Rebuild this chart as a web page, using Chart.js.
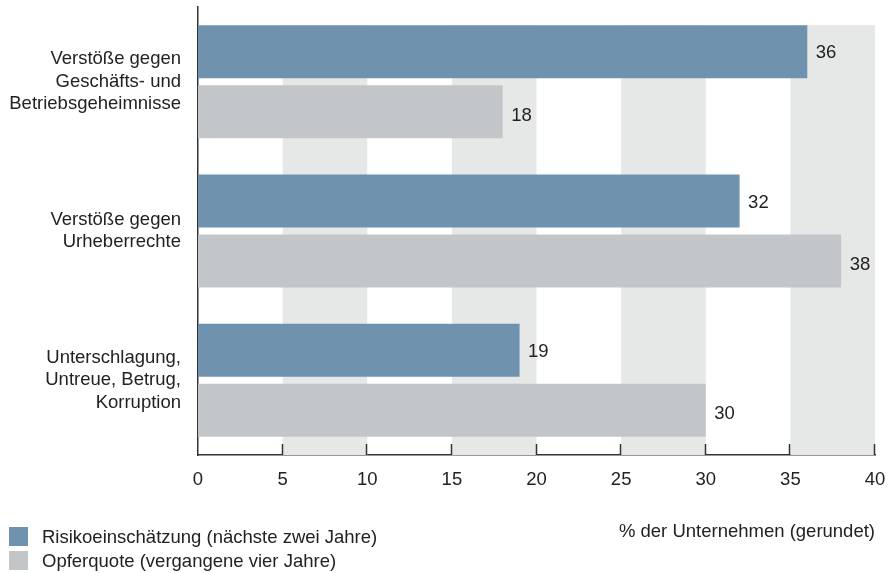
<!DOCTYPE html>
<html>
<head>
<meta charset="utf-8">
<script src="https://cdn.jsdelivr.net/npm/chart.js@4/dist/chart.umd.min.js"></script>
<style>
  body { margin: 0; background: #fff; font-family: "Liberation Sans", Arial, sans-serif; }
  #wrap { position: relative; width: 891px; height: 573px; }
  .legend-item { position: absolute; left: 9px; height: 19px; font-size: 18.5px; color: #222; line-height: 19px; }
  .legend-item span.box { position: absolute; left: 0; top: 0; width: 19px; height: 19px; }
  .legend-item span.txt { position: absolute; left: 33px; top: 0; white-space: nowrap; }
</style>
</head>
<body>
<div id="wrap">
  <canvas id="chart"></canvas>
  <div class="legend-item" style="top:527px"><span class="box" style="background:#6f93af"></span><span class="txt">Risikoeinschätzung (nächste zwei Jahre)</span></div>
  <div class="legend-item" style="top:551px"><span class="box" style="background:#c3c6c9"></span><span class="txt">Opferquote (vergangene vier Jahre)</span></div>
</div>
<script>
const categories = [
  ["Verstöße gegen", "Geschäfts- und", "Betriebsgeheimnisse"],
  ["Verstöße gegen", "Urheberrechte"],
  ["Unterschlagung,", "Untreue, Betrug,", "Korruption"],
];
const riskValues = [36, 32, 19];
const victimValues = [18, 38, 30];
const seriesLabels = ["Risikoeinschätzung (nächste zwei Jahre)", "Opferquote (vergangene vier Jahre)"];
const xTicks = [0, 5, 10, 15, 20, 25, 30, 35, 40];
const bandStarts = [5, 15, 25, 35];

const FONT = "'Liberation Sans', Arial, sans-serif";
const FS = 18.5;
// small vertical nudge of the value labels per series
const labelNudge = [1.5, 4];

// grey bands behind bars, tick marks inside the axis, and value labels
const decorPlugin = {
  id: "decor",
  beforeDatasetsDraw(chart) {
    const { ctx, chartArea, scales } = chart;
    const first = chart.getDatasetMeta(0).data[0];
    const bandTop = first.y - first.height / 2;
    ctx.save();
    ctx.fillStyle = "#e6e7e7";
    bandStarts.forEach((v) => {
      const x1 = scales.x.getPixelForValue(v);
      const x2 = scales.x.getPixelForValue(v + 5);
      ctx.fillRect(x1, bandTop, x2 - x1, chartArea.bottom - bandTop);
    });
    ctx.restore();
  },
  afterDraw(chart) {
    const { ctx, chartArea, scales } = chart;
    ctx.save();
    ctx.strokeStyle = "#333";
    ctx.lineWidth = 1.5;
    xTicks.slice(1).forEach((v) => {
      const x = Math.round(scales.x.getPixelForValue(v)) - 0.5;
      ctx.beginPath();
      ctx.moveTo(x, chartArea.bottom);
      ctx.lineTo(x, chartArea.bottom - 11);
      ctx.stroke();
    });
    ctx.fillStyle = "#222";
    ctx.font = FS + "px " + FONT;
    ctx.textAlign = "left";
    ctx.textBaseline = "middle";
    chart.data.datasets.forEach((ds, i) => {
      chart.getDatasetMeta(i).data.forEach((bar, j) => {
        ctx.fillText(ds.data[j], bar.x + 8.5, bar.y + labelNudge[i]);
      });
    });
    ctx.restore();
  },
};

new Chart(document.getElementById("chart"), {
  type: "bar",
  data: {
    labels: categories,
    datasets: [
      {
        label: seriesLabels[0],
        data: riskValues,
        backgroundColor: "#6f93af",
        categoryPercentage: 0.8036,
        barPercentage: 0.883,
      },
      {
        label: seriesLabels[1],
        data: victimValues,
        backgroundColor: "#c3c6c9",
        categoryPercentage: 0.8036,
        barPercentage: 0.883,
      },
    ],
  },
  options: {
    indexAxis: "y",
    responsive: true,
    maintainAspectRatio: false,
    animation: false,
    layout: { padding: { top: 7, right: 16, left: 0, bottom: 0 } },
    plugins: {
      legend: { display: false },
      tooltip: { enabled: false },
    },
    scales: {
      x: {
        min: 0,
        max: 40,
        afterBuildTicks: (scale) => {
          scale.ticks = xTicks.map((v) => ({ value: v }));
        },
        afterFit: (scale) => {
          scale.height = 118;
          scale.paddingLeft = 0;
          scale.paddingRight = 0;
        },
        grid: { display: false, drawTicks: false },
        border: { display: true, color: "#333", width: 1.5 },
        ticks: {
          color: "#222",
          padding: 14,
          font: { family: FONT, size: FS },
        },
        title: {
          display: true,
          text: "% der Unternehmen (gerundet)",
          align: "end",
          color: "#222",
          font: { family: FONT, size: FS },
          padding: { top: 0, bottom: 30 },
        },
      },
      y: {
        afterFit: (scale) => {
          scale.width = 198;
          scale.paddingTop = 0;
          scale.paddingBottom = 0;
        },
        grid: { display: false, drawTicks: false },
        border: { display: true, color: "#333", width: 1.5 },
        ticks: {
          color: "#222",
          padding: 17,
          font: { family: FONT, size: FS, lineHeight: 1.216 },
        },
      },
    },
  },
  plugins: [decorPlugin],
});
</script>
</body>
</html>
